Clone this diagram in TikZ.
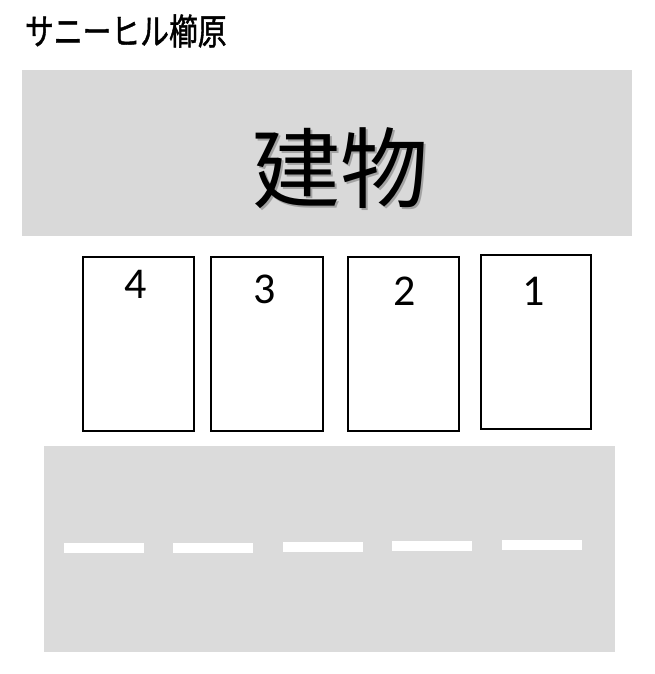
\documentclass[tikz,border=0pt]{standalone}
\usepackage{fontspec}
\setmainfont{Carlito}
\newfontfamily\jpfont{Noto Sans CJK JP}
\newfontfamily\jptitle[FakeStretch=0.8, FakeBold=1.2]{Noto Sans CJK JP}
\usetikzlibrary{positioning}
\definecolor{bldgray}{HTML}{D9D9D9}
\definecolor{roadgray}{HTML}{DBDBDB}

\begin{document}
\begin{tikzpicture}[x=1pt, y=-1pt,
    lot/.style = {draw, line width=1.2pt, minimum width=111pt, minimum height=174pt, inner sep=0pt, outer sep=0pt},
    num/.style = {font=\fontsize{44}{44}\selectfont, inner sep=0pt},
    area/.style = {inner sep=0pt, outer sep=0pt}]
    \useasboundingbox (0,0) rectangle (654,674);
    \node[anchor=west, area, font=\jptitle\fontsize{36}{36}\selectfont] (title) at (25,31) {サニーヒル櫛原};
    \node[area, fill=bldgray, minimum width=610pt, minimum height=166pt] (bldg) at (327,153) {};
    \node[text=black, opacity=0.25, font=\jpfont\fontsize{88}{88}\selectfont] (bshadow) at (342.5,170.5) {建物};
    \node[font=\jpfont\fontsize{88}{88}\selectfont] (bname) at (340,168) {建物};
    \node[lot] (b4) at (138.5,344) {};
    \node[lot, minimum width=112pt] (b3) [right = 17pt of b4] {};
    \node[lot] (b2) [right = 25pt of b3] {};
    \node[lot, minimum width=110pt] (b1) [right = 22pt of b2, yshift=2pt] {};
    \node[num] (n4) [below = 13pt of b4.north, xshift=-3pt] {4};
    \node[num] (n3) [below = 18pt of b3.north, xshift=-2pt] {3};
    \node[num] (n2) [below = 20pt of b2.north, xshift=1pt] {2};
    \node[num] (n1) [below = 22pt of b1.north, xshift=-2pt] {1};
    \node[area, fill=roadgray, minimum width=571pt, minimum height=206pt] (road) at (329.5,549) {};
    \foreach \x/\y in {104/548, 213/547.5, 322.5/546.5, 432/545.5, 541.5/544.5}
        \fill[white] (\x-40,\y-5) rectangle (\x+40,\y+5);
\end{tikzpicture}
\end{document}
